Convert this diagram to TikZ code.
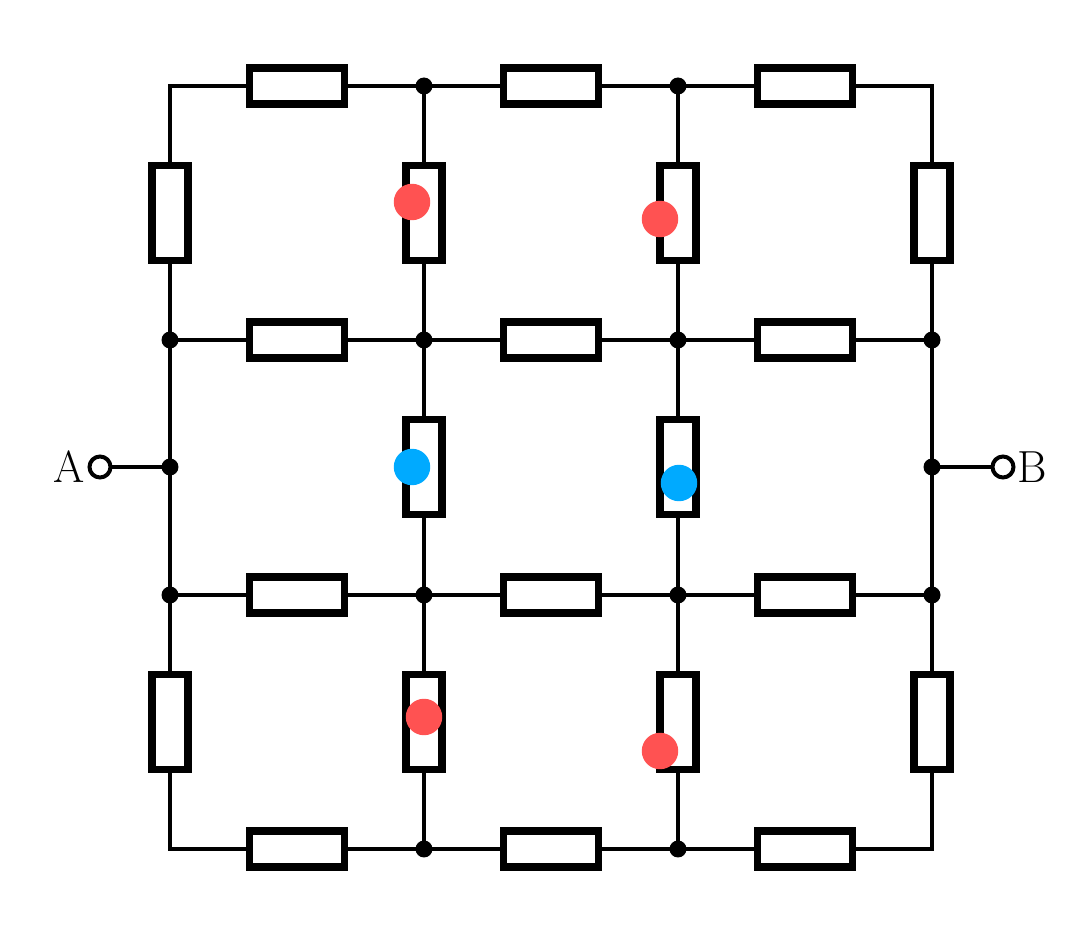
\documentclass[tikz,border=0pt]{standalone}
\usetikzlibrary{positioning}
\definecolor{spotred}{HTML}{FF5252}
\definecolor{spotblue}{HTML}{00AAFF}
\tikzset{
  res/.style={draw,line width=0.145cm,fill=white,rectangle,inner sep=0pt,minimum width=1.9cm,minimum height=0.72cm},
  vres/.style={res,rotate=90},
  dot/.style={circle,fill=black,inner sep=0pt,outer sep=0pt,minimum size=0.34cm},
  term/.style={circle,draw,fill=white,line width=0.08cm,inner sep=0pt,minimum size=0.42cm},
  wire/.style={line width=0.08cm},
  red spot/.style={circle,fill=spotred,inner sep=0pt,outer sep=0pt,minimum size=0.73cm},
  blue spot/.style={circle,fill=spotblue,inner sep=0pt,outer sep=0pt,minimum size=0.73cm},
  letter/.style={font=\fontsize{25.6}{26}\selectfont,inner sep=0pt},
}
\begin{document}
\begin{tikzpicture}[x=0.02cm,y=-0.02cm]
  \useasboundingbox (0,-1) rectangle (1080,928);
  % corners
  \coordinate (c11) at (170,85);
  \coordinate (c14) at (932,85);
  \coordinate (c41) at (170,848);
  \coordinate (c44) at (932,848);
  % junctions
  \node[dot] (n12) at (424,85) {};
  \node[dot] (n13) at (678,85) {};
  \node[dot] (n21) at (170,339) {};
  \node[dot] (n22) at (424,339) {};
  \node[dot] (n23) at (678,339) {};
  \node[dot] (n24) at (932,339) {};
  \node[dot] (n31) at (170,594) {};
  \node[dot] (n32) at (424,594) {};
  \node[dot] (n33) at (678,594) {};
  \node[dot] (n34) at (932,594) {};
  \node[dot] (n42) at (424,848) {};
  \node[dot] (n43) at (678,848) {};
  \node[dot] (nA) at (170,466) {};
  \node[dot] (nB) at (932,466) {};
  % terminals
  \node[term] (tA) at (100,466) {};
  \node[term] (tB) at (1003,466) {};
  \node[letter,left=0.04cm of tA] (lA) {A};
  \node[letter,right=0.03cm of tB] (lB) {B};
  % wires
  \draw[wire] (c11)--(c14)--(c44)--(c41)--cycle;
  \draw[wire] (n21.center)--(n24.center);
  \draw[wire] (n31.center)--(n34.center);
  \draw[wire] (n12.center)--(n42.center);
  \draw[wire] (n13.center)--(n43.center);
  \draw[wire] (tA)--(nA.center);
  \draw[wire] (nB.center)--(tB);
  % horizontal resistors
  \foreach \y/\r in {85/1,339/2,594/3,848/4}
    \foreach \x/\c in {297/1,551/2,805/3}
      \node[res] (h\r\c) at (\x,\y) {};
  % vertical resistors
  \foreach \x/\c in {170/1,424/2,678/3,932/4}
    \foreach \y/\r in {212/1,721/3}
      \node[vres] (v\r\c) at (\x,\y) {};
  \node[vres] (v22) at (424,466) {};
  \node[vres] (v23) at (678,466) {};
  % coloured spots
  \node[red spot] (s1) at (412,201) {};
  \node[red spot] (s2) at (660,218) {};
  \node[blue spot] (s3) at (412,466) {};
  \node[blue spot] (s4) at (679,482) {};
  \node[red spot] (s5) at (424,716) {};
  \node[red spot] (s6) at (660,750) {};
\end{tikzpicture}
\end{document}
